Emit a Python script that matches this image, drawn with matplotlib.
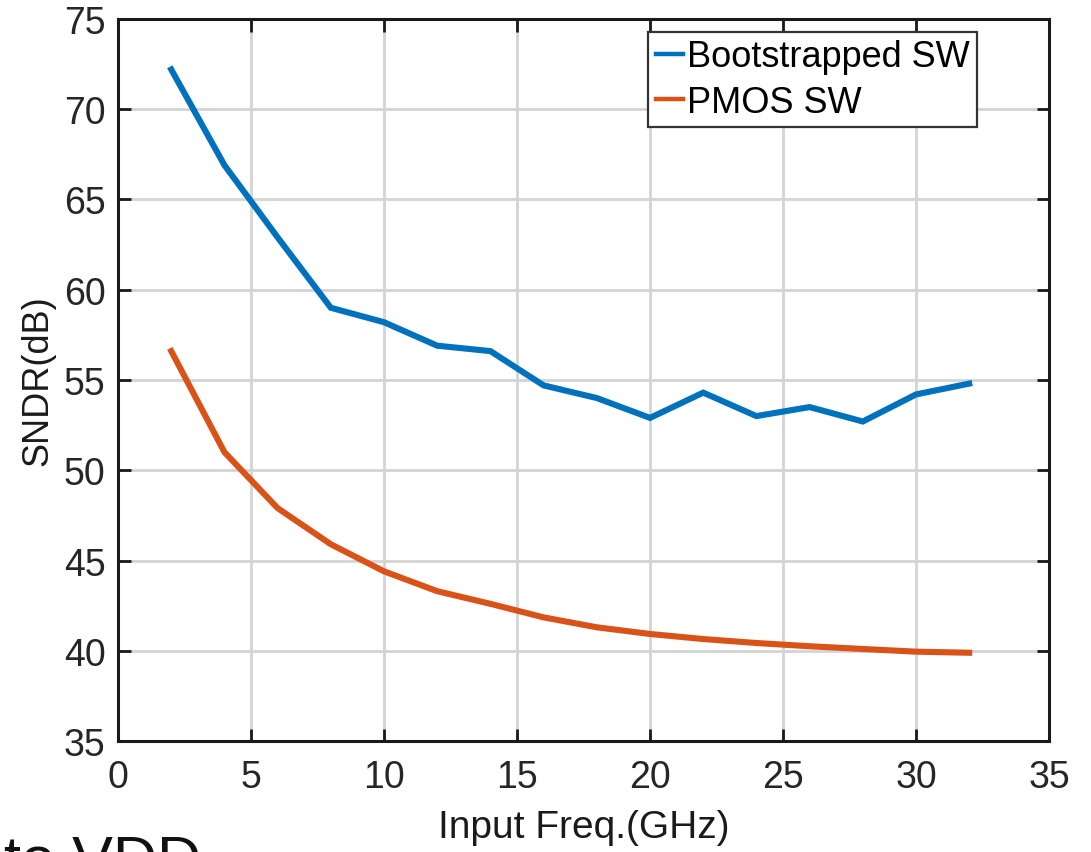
import numpy as np
import matplotlib
matplotlib.use("Agg")
from matplotlib import pyplot as plt

# data
freq = [2, 4, 6, 8, 10, 12, 14, 16, 18, 20, 22, 24, 26, 28, 30, 32]
sndr_boot = [72.2, 66.9, 62.9, 59.0, 58.2, 56.9, 56.6, 54.7, 54.0, 52.9,
             54.3, 53.0, 53.5, 52.7, 54.2, 54.8]
sndr_pmos = [56.6, 51.0, 47.9, 45.9, 44.4, 43.3, 42.6, 41.85, 41.3, 40.93,
             40.65, 40.43, 40.25, 40.1, 39.95, 39.89]

xticks = np.arange(0, 36, 5)
yticks = np.arange(35, 76, 5)

plt.rcParams['font.family'] = ['Liberation Sans', 'DejaVu Sans']

fig = plt.figure(figsize=(10.91, 8.53), dpi=100)
ax = fig.add_axes([0.1082, 0.1301, 0.8533, 0.8465])

ax.plot(freq, sndr_boot, color='#0072BD', lw=4.4, label='Bootstrapped SW',
        solid_joinstyle='miter')
ax.plot(freq, sndr_pmos, color='#D95319', lw=4.4, label='PMOS SW',
        solid_joinstyle='miter')

ax.set_xlim(0, 35)
ax.set_ylim(35, 75)
ax.set_xticks(xticks)
ax.set_yticks(yticks)
ax.grid(True, color='#d4d4d4', lw=2.0)
ax.set_axisbelow(True)

for s in ax.spines.values():
    s.set_linewidth(2.2)
    s.set_color('#1a1a1a')
ax.tick_params(direction='in', length=9, width=2, top=True, right=True,
               labelsize=27, colors='#262626', color='#1a1a1a')
ax.tick_params(axis='x', pad=13)
ax.tick_params(axis='y', pad=9)

ax.set_xlabel('Input Freq.(GHz)', fontsize=28, labelpad=10, color='#1a1a1a')
ax.set_ylabel('SNDR(dB)', fontsize=26, labelpad=6, color='#1a1a1a')

leg = ax.legend(loc='upper right', bbox_to_anchor=(0.9227, 0.982), fontsize=26,
                handlelength=0.75, handletextpad=0.12, borderpad=0.2,
                labelspacing=0.3, borderaxespad=0, fancybox=False,
                framealpha=1)
leg.get_frame().set_edgecolor('#333333')
leg.get_frame().set_linewidth(1.6)
for h in leg.get_lines():
    h.set_linewidth(3.2)

# fragment of a neighbouring figure cut at the bottom edge
fig.text(0.004, -0.03, 'to VDD', fontsize=44, color='#111111', va='baseline')

fig.savefig('out.png', dpi=100)
